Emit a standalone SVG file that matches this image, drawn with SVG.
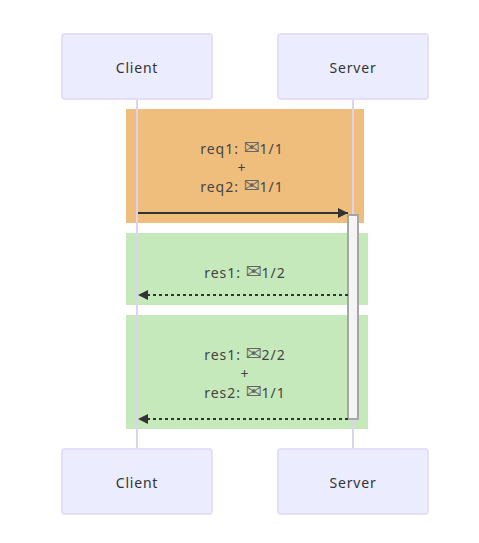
<svg xmlns="http://www.w3.org/2000/svg" width="479" height="543" viewBox="0 0 479 543">
<style>
.actor{fill:#ECECFF;stroke:#e4def6;stroke-width:2}
.life{stroke:#dcd3f2;stroke-width:2;fill:none}
.t{font-family:"Noto Sans","DejaVu Sans",sans-serif;font-size:14px;letter-spacing:1px;fill:#444;text-anchor:middle}
.e{font-family:"DejaVu Sans",sans-serif;font-size:19px;letter-spacing:0;fill:#666}
.a{font-family:"Noto Sans","DejaVu Sans",sans-serif;font-size:14px;letter-spacing:.8px;fill:#333;text-anchor:middle}
.msg{stroke:#333;stroke-width:2;fill:none}
.dot{stroke-dasharray:3 3}
</style>
<defs>
<marker id="arrow" markerUnits="userSpaceOnUse" markerWidth="12" markerHeight="12" refX="11" refY="6" orient="auto"><path d="M1 1L11 6L1 11Z" fill="#333"/></marker>
</defs>
<rect x="126" y="109" width="238" height="114" fill="#EFBE7D"/>
<rect x="126" y="233" width="242" height="72" fill="#C6E9BC"/>
<rect x="126" y="315" width="242" height="114" fill="#C6E9BC"/>
<g id="lifelines">
<line class="life" x1="137" y1="99" x2="137" y2="449"/>
<line class="life" x1="353" y1="99" x2="353" y2="449"/>
</g>
<g id="node-client-top"><rect class="actor" x="62" y="34" width="150" height="65" rx="3"/><text class="a" x="137" y="72.500">Client</text></g>
<g id="node-server-top"><rect class="actor" x="278" y="34" width="150" height="65" rx="3"/><text class="a" x="353" y="72.500">Server</text></g>
<g id="node-client-bottom"><rect class="actor" x="62" y="449" width="150" height="65" rx="3"/><text class="a" x="137" y="487.500">Client</text></g>
<g id="node-server-bottom"><rect class="actor" x="278" y="449" width="150" height="65" rx="3"/><text class="a" x="353" y="487.500">Server</text></g>
<g id="node-activation"><rect x="348" y="215" width="10" height="204" fill="#f4f4f4" stroke="#a6a6a6" stroke-width="2"/></g>
<g id="connectors">
<line class="msg" x1="138" y1="213" x2="348" y2="213" marker-end="url(#arrow)"/>
<line class="msg dot" x1="348" y1="295" x2="138" y2="295" marker-end="url(#arrow)"/>
<line class="msg dot" x1="348" y1="419" x2="138" y2="419" marker-end="url(#arrow)"/>
</g>
<g id="labels">
<text class="t" x="242" y="154">req1: <tspan class="e">✉</tspan>1/1</text>
<text class="t" x="242" y="173">+</text>
<text class="t" x="242" y="192">req2: <tspan class="e">✉</tspan>1/1</text>
<text class="t" x="245" y="278">res1: <tspan class="e">✉</tspan>1/2</text>
<text class="t" x="245" y="360">res1: <tspan class="e">✉</tspan>2/2</text>
<text class="t" x="245" y="379">+</text>
<text class="t" x="245" y="398">res2: <tspan class="e">✉</tspan>1/1</text>
</g>
</svg>
